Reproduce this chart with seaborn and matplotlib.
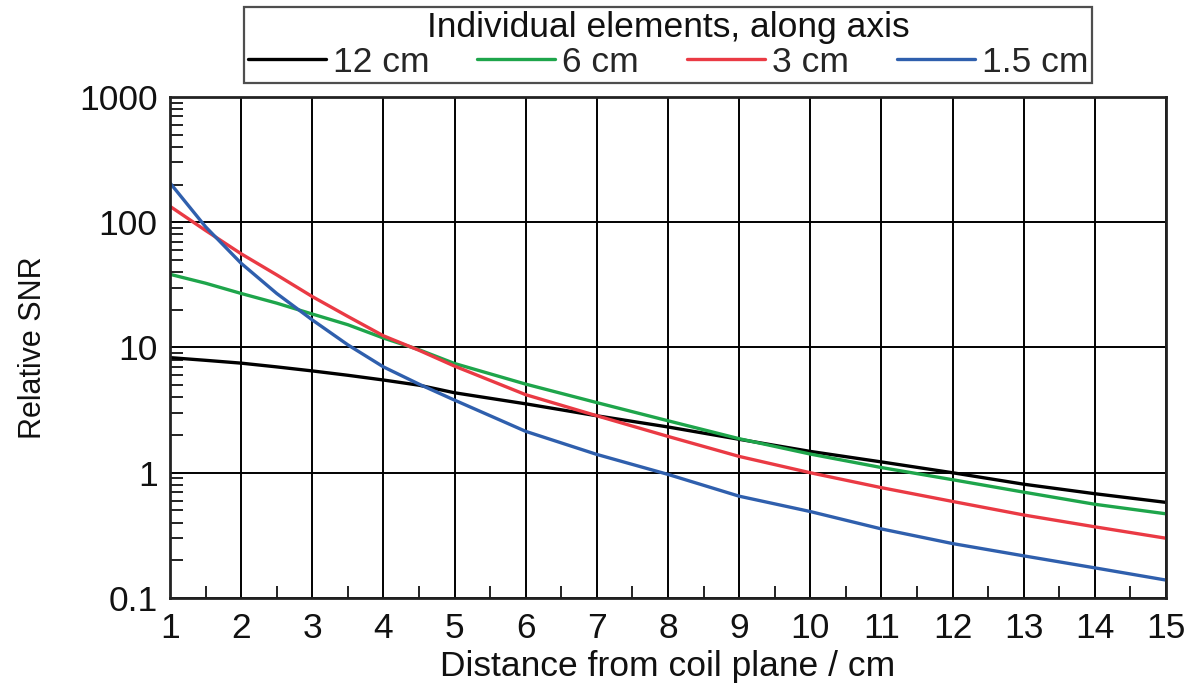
import numpy as np
import pandas as pd
import matplotlib
matplotlib.use("Agg")
import matplotlib.pyplot as plt
import seaborn as sns
from matplotlib.ticker import FixedLocator, FixedFormatter, LogLocator, NullFormatter, MultipleLocator

# ---- data ----
distance = [1, 1.5, 2, 2.5, 3, 3.5, 4, 4.5, 5, 6, 7, 8, 9, 10, 11, 12, 13, 14, 15]
snr_12cm = [8.3, 7.9, 7.5, 7.0, 6.5, 6.0, 5.5, 5.0, 4.35, 3.55, 2.85, 2.32, 1.85, 1.48, 1.22, 1.0, 0.81, 0.68, 0.58]
snr_6cm = [38.4, 32.6, 27.0, 22.6, 18.5, 15.2, 11.9, 9.6, 7.45, 5.1, 3.63, 2.6, 1.87, 1.41, 1.1, 0.88, 0.70, 0.56, 0.47]
snr_3cm = [134, 86, 56, 38, 25.5, 17.7, 12.4, 9.5, 7.1, 4.2, 2.85, 1.95, 1.35, 1.0, 0.76, 0.59, 0.46, 0.37, 0.30]
snr_1_5cm = [206, 92, 47, 27, 16.6, 10.5, 7.0, 5.1, 3.8, 2.14, 1.40, 0.97, 0.65, 0.49, 0.356, 0.272, 0.217, 0.174, 0.139]
series_labels = ["12 cm", "6 cm", "3 cm", "1.5 cm"]
series_colors = ["#000000", "#1ea54b", "#ea3a44", "#2f5fad"]
y_ticks = [0.1, 1, 10, 100, 1000]
y_ticklabels = ["0.1", "1", "10", "100", "1000"]
x_ticks = list(range(1, 16))

frames = []
for lab, vals in zip(series_labels, [snr_12cm, snr_6cm, snr_3cm, snr_1_5cm]):
    frames.append(pd.DataFrame({"distance": distance, "snr": vals, "element": lab}))
df = pd.concat(frames, ignore_index=True)

sns.set_style("white")
plt.rcParams["font.family"] = ["Liberation Sans", "DejaVu Sans"]

fig = plt.figure(figsize=(12.04, 6.86), dpi=100)
ax = fig.add_axes([0.1412, 0.1283, 0.8272, 0.7303])

sns.lineplot(data=df, x="distance", y="snr", hue="element", hue_order=series_labels,
             palette=series_colors, linewidth=2.4, ax=ax, legend=True)

ax.set_yscale("log")
ax.set_xlim(1, 15)
ax.set_ylim(0.1, 1000)

ax.yaxis.set_major_locator(FixedLocator(y_ticks))
ax.yaxis.set_major_formatter(FixedFormatter(y_ticklabels))
ax.yaxis.set_minor_locator(LogLocator(base=10, subs=np.arange(2, 10)))
ax.yaxis.set_minor_formatter(NullFormatter())
ax.xaxis.set_major_locator(FixedLocator(x_ticks))
ax.xaxis.set_major_formatter(FixedFormatter([str(v) for v in x_ticks]))
ax.xaxis.set_minor_locator(MultipleLocator(0.5))

ax.grid(True, which="major", color="black", linewidth=1.4)
ax.tick_params(axis="both", which="major", length=0, labelsize=25.5, labelcolor="#111111")
ax.tick_params(axis="x", which="major", pad=10)
ax.tick_params(axis="y", which="major", pad=9)
ax.tick_params(axis="both", which="minor", direction="in", length=9, width=1.4, color="#222222")
ax.tick_params(axis="x", which="minor", bottom=True, top=False)
ax.tick_params(axis="y", which="minor", left=True, right=False)

for sp in ax.spines.values():
    sp.set_color("#222222")
    sp.set_linewidth(2.0)

ax.set_xlabel("Distance from coil plane / cm", fontsize=25.5, labelpad=4, color="#111111")
ax.set_ylabel("Relative SNR", fontsize=22, labelpad=22, color="#111111")

leg = ax.legend(title="Individual elements, along axis", ncol=4, loc="lower center",
                bbox_to_anchor=(0.5, 1.028), fontsize=25.5, title_fontsize=25.5,
                frameon=True, fancybox=False, edgecolor="#222222",
                handlelength=2.2, handletextpad=0.2, columnspacing=1.35,
                borderpad=0.12, labelspacing=0.05, borderaxespad=0.0)
leg.get_frame().set_linewidth(1.6)
leg.get_title().set_color("#111111")
for h in leg.get_lines():
    h.set_linewidth(2.4)

fig.savefig("out.png", dpi=100)
